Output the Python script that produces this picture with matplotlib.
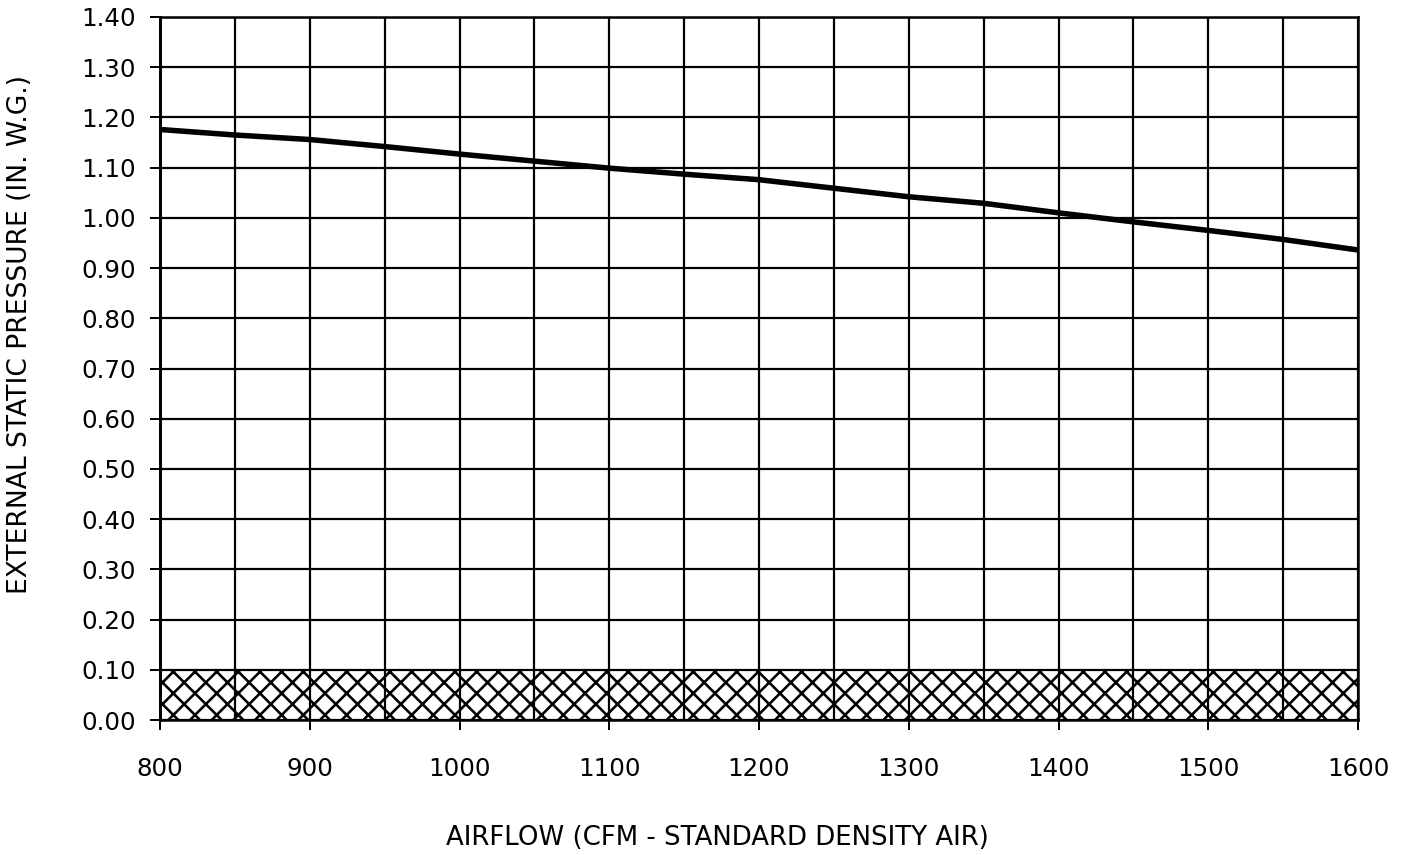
import matplotlib
matplotlib.use("Agg")
import matplotlib.pyplot as plt
import numpy as np

# Data
airflow = [800, 850, 900, 950, 1000, 1050, 1100, 1150, 1200, 1250, 1300, 1350, 1400, 1450, 1500, 1550, 1600]
pressure = [1.176, 1.165, 1.156, 1.142, 1.127, 1.113, 1.099, 1.087, 1.076, 1.059, 1.042, 1.029, 1.010, 0.992, 0.975, 0.957, 0.936]
band_x = [800, 1600]
band_top = [0.10, 0.10]
x_ticks = [800, 900, 1000, 1100, 1200, 1300, 1400, 1500, 1600]
y_ticks = [0.0, 0.1, 0.2, 0.3, 0.4, 0.5, 0.6, 0.7, 0.8, 0.9, 1.0, 1.1, 1.2, 1.3, 1.4]
x_label = "AIRFLOW (CFM - STANDARD DENSITY AIR)"
y_label = "EXTERNAL STATIC PRESSURE (IN. W.G.)"

DPI = 130
W, H = 1408, 855
def px(p):
    return p * 72.0 / DPI

plt.rcParams['font.family'] = ['DejaVu Sans']
plt.rcParams['hatch.linewidth'] = px(2.6)

fig = plt.figure(figsize=(W / DPI, H / DPI), dpi=DPI)
L, R, T, B = 160, 1358, 17, 720
ax = fig.add_axes([L / W, 1 - B / H, (R - L) / W, (B - T) / H])

ax.fill_between(band_x, 0, band_top, facecolor='white', edgecolor='black',
                hatch='xx', linewidth=0, zorder=1)

ax.plot(airflow, pressure, color='black', linewidth=px(5.5), zorder=4,
        solid_joinstyle='round')

ax.set_xlim(800, 1600)
ax.set_ylim(0, 1.4)
ax.set_xticks(x_ticks)
ax.set_yticks(y_ticks)
ax.set_yticklabels([f"{v:.2f}" for v in y_ticks])
ax.set_xticks(np.arange(850, 1600, 100), minor=True)

ax.set_axisbelow(False)
ax.grid(True, which='both', color='black', linewidth=px(2.2), zorder=2.5)

ax.tick_params(axis='both', which='major', direction='out', length=px(10),
               width=px(2), color='black', labelsize=px(24.5), labelcolor='black')
ax.tick_params(axis='x', which='major', pad=px(27))
ax.tick_params(axis='y', which='major', pad=px(14))
ax.tick_params(axis='x', which='minor', length=0)

for side in ['left', 'right', 'bottom', 'top']:
    ax.spines[side].set_linewidth(px(2.5))
    ax.spines[side].set_color('black')
ax.spines['left'].set_linewidth(px(3))

ax.set_xlabel(x_label, fontsize=px(26), va='center', ha='center')
ax.set_ylabel(y_label, fontsize=px(26.5), va='center', ha='center')
ax.xaxis.set_label_coords((717 - L) / (R - L), (B - 838) / (B - T))
ax.yaxis.set_label_coords((20 - L) / (R - L), (B - 335) / (B - T))

fig.savefig("out.png", dpi=DPI, facecolor='white')
